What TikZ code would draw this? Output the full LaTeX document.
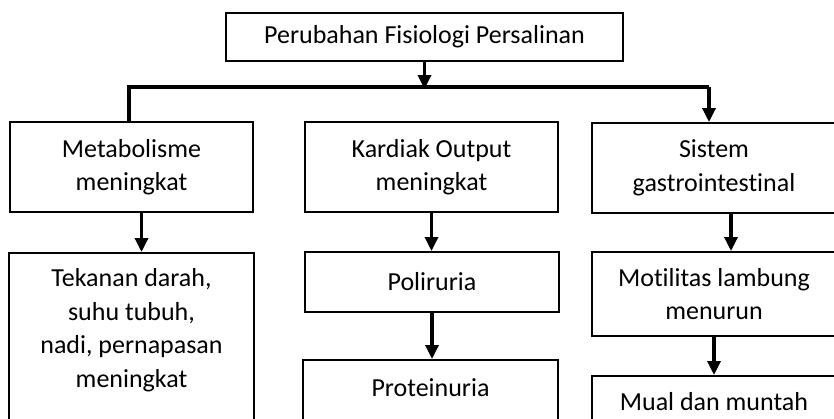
\documentclass[tikz,border=0pt]{standalone}
\usepackage{fontspec}
\setmainfont{Carlito}[Ligatures=NoCommon]
\usepackage{tikz}
\usetikzlibrary{positioning, calc, arrows.meta}

\tikzset{
  kotak/.style = {draw, line width=2pt, inner sep=0pt, align=center},
  garis/.style = {line width=3.3pt},
  panah/.style = {garis, -{Triangle[length=14pt, width=13pt]}}
}

\begin{document}
\begin{tikzpicture}[x=1pt, y=-1pt, font=\fontsize{26}{33.5}\selectfont]
	\useasboundingbox (0,0) rectangle (834,418);
	\clip (0,0) rectangle (834,418);

	\node[kotak, minimum width=397pt, minimum height=48pt] (judul) at (424.5,37) {Perubahan Fisiologi Persalinan};

	\node[kotak, minimum width=243pt, minimum height=90pt] (metabolisme) at (131.5,167) {Metabolisme\\meningkat};
	\node[kotak, minimum width=253pt, minimum height=90pt] (kardiak) at (431.5,167) {Kardiak Output\\meningkat};
	\node[kotak, minimum width=244pt, minimum height=90pt] (sistem) at (714,168) {Sistem\\gastrointestinal};

	\node[kotak, minimum width=245pt, minimum height=180pt, anchor=north] (tekanan) at (131.5,252) {};
	\node[align=center] (tekanantxt) at (131.5,330) {Tekanan darah,\\suhu tubuh,\\nadi, pernapasan\\meningkat};

	\node[kotak, minimum width=254pt, minimum height=60pt] (poliruria) at (432,282) {Poliruria};
	\node[kotak, minimum width=255pt, minimum height=80pt, anchor=north] (proteinuria) at (430.5,359) {};
	\node (proteinuriatxt) at (430.5,388) {Proteinuria};

	\node[kotak, minimum width=244pt, minimum height=84pt] (motilitas) at (714,294) {Motilitas lambung\\menurun};
	\node[kotak, minimum width=244pt, minimum height=80pt, anchor=north] (mual) at (714,375) {};
	\node[anchor=base] (mualtxt) at (714,410) {Mual dan muntah};

	\coordinate (cabang) at (424.5,89);
	\coordinate (kiri) at (129,87);
	\coordinate (kanan) at (709,87);

	\draw[panah] (judul.south) -- (cabang);
	\draw[garis] (kiri |- metabolisme.north) -- (kiri) -- (kanan);
	\draw[panah] (kanan) -- (kanan |- sistem.north);

	\draw[panah] ([xshift=10pt]metabolisme.south) -- ([xshift=10pt]tekanan.north);
	\draw[panah] (kardiak.south) -- (kardiak.south |- poliruria.north);
	\draw[panah] (poliruria.south) -- (poliruria.south |- proteinuria.north);
	\draw[panah] ([xshift=17pt]sistem.south) -- ([xshift=17pt]sistem.south |- motilitas.north);
	\draw[panah] (motilitas.south) -- (motilitas.south |- mual.north);
\end{tikzpicture}
\end{document}
